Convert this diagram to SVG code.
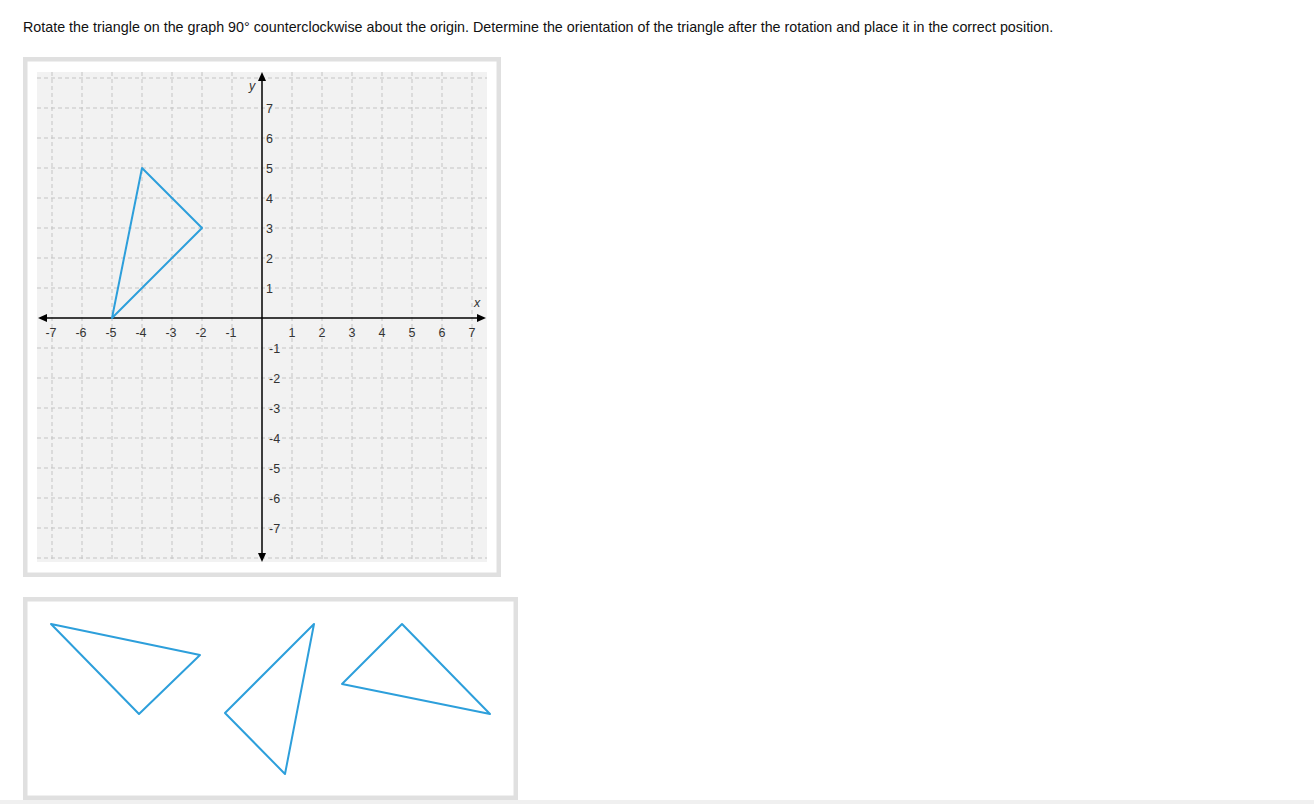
<svg xmlns="http://www.w3.org/2000/svg" width="1314" height="804" viewBox="0 0 1314 804">
<style>
.title{font-family:"Liberation Sans",Arial,sans-serif;font-size:14.3px;fill:#111}
.box{fill:#fff;stroke:#e0e0e0;stroke-width:4.5}
.grid line{stroke:#c4c4c4;stroke-width:1;stroke-dasharray:4,3}
.axis{stroke:#000;stroke-width:1.5}
.lbl{font-family:"Liberation Sans",Arial,sans-serif;font-size:12.5px;fill:#333}
.xl{text-anchor:middle}
.tri{fill:none;stroke:#2d9fdb;stroke-width:2;stroke-linejoin:round}
</style>
<rect x="0" y="0" width="1314" height="804" fill="#fff"/>
<rect x="0" y="800" width="1314" height="4" fill="#f0f0f0"/>
<text class="title" x="23" y="31.5">Rotate the triangle on the graph 90° counterclockwise about the origin. Determine the orientation of the triangle after the rotation and place it in the correct position.</text>

<g id="graph">
<rect class="box" x="25.25" y="59.25" width="473.5" height="515.5"/>
<rect x="37" y="72" width="450" height="490" fill="#f2f2f2"/>
<g class="grid">
<line x1="37" y1="78" x2="487" y2="78"/>
<line x1="37" y1="108" x2="487" y2="108"/>
<line x1="37" y1="138" x2="487" y2="138"/>
<line x1="37" y1="168" x2="487" y2="168"/>
<line x1="37" y1="198" x2="487" y2="198"/>
<line x1="37" y1="228" x2="487" y2="228"/>
<line x1="37" y1="258" x2="487" y2="258"/>
<line x1="37" y1="288" x2="487" y2="288"/>
<line x1="37" y1="348" x2="487" y2="348"/>
<line x1="37" y1="378" x2="487" y2="378"/>
<line x1="37" y1="408" x2="487" y2="408"/>
<line x1="37" y1="438" x2="487" y2="438"/>
<line x1="37" y1="468" x2="487" y2="468"/>
<line x1="37" y1="498" x2="487" y2="498"/>
<line x1="37" y1="528" x2="487" y2="528"/>
<line x1="37" y1="558" x2="487" y2="558"/>
<line x1="52" y1="72" x2="52" y2="562"/>
<line x1="82" y1="72" x2="82" y2="562"/>
<line x1="112" y1="72" x2="112" y2="562"/>
<line x1="142" y1="72" x2="142" y2="562"/>
<line x1="172" y1="72" x2="172" y2="562"/>
<line x1="202" y1="72" x2="202" y2="562"/>
<line x1="232" y1="72" x2="232" y2="562"/>
<line x1="292" y1="72" x2="292" y2="562"/>
<line x1="322" y1="72" x2="322" y2="562"/>
<line x1="352" y1="72" x2="352" y2="562"/>
<line x1="382" y1="72" x2="382" y2="562"/>
<line x1="412" y1="72" x2="412" y2="562"/>
<line x1="442" y1="72" x2="442" y2="562"/>
<line x1="472" y1="72" x2="472" y2="562"/>
</g>
<g id="axes">
<line class="axis" x1="44" y1="318" x2="480" y2="318"/>
<line class="axis" x1="262" y1="78" x2="262" y2="556"/>
<polygon points="38,318 47,314 47,322" fill="#000"/>
<polygon points="486,318 477,314 477,322" fill="#000"/>
<polygon points="262,72 258,81 266,81" fill="#000"/>
<polygon points="262,562 258,553 266,553" fill="#000"/>
<text class="lbl" x="477" y="307" text-anchor="middle" font-style="italic">x</text>
<text class="lbl" x="252" y="90" text-anchor="middle" font-style="italic">y</text>
</g>
<g id="xlabels" class="lbl xl">
<text x="51" y="337">-7</text>
<text x="81" y="337">-6</text>
<text x="111" y="337">-5</text>
<text x="141" y="337">-4</text>
<text x="171" y="337">-3</text>
<text x="201" y="337">-2</text>
<text x="231" y="337">-1</text>
<text x="292" y="337">1</text>
<text x="322" y="337">2</text>
<text x="352" y="337">3</text>
<text x="382" y="337">4</text>
<text x="412" y="337">5</text>
<text x="442" y="337">6</text>
<text x="472" y="337">7</text>
</g>
<g id="ylabels" class="lbl">
<text x="266" y="113">7</text>
<text x="266" y="143">6</text>
<text x="266" y="173">5</text>
<text x="266" y="203">4</text>
<text x="266" y="233">3</text>
<text x="266" y="263">2</text>
<text x="266" y="293">1</text>
<text x="269" y="353">-1</text>
<text x="269" y="383">-2</text>
<text x="269" y="413">-3</text>
<text x="269" y="443">-4</text>
<text x="269" y="473">-5</text>
<text x="269" y="503">-6</text>
<text x="269" y="533">-7</text>
</g>
<polygon id="triangle" class="tri" points="142,168 202,228 112,318"/>
</g>

<g id="choices">
<rect class="box" x="25.25" y="599.25" width="490.5" height="198.5"/>
<polygon id="choice1" class="tri" points="51,624 200,655 139,714"/>
<polygon id="choice2" class="tri" points="314,624 225,713 285,774"/>
<polygon id="choice3" class="tri" points="402,624 490,714 342,684"/>
</g>
</svg>
